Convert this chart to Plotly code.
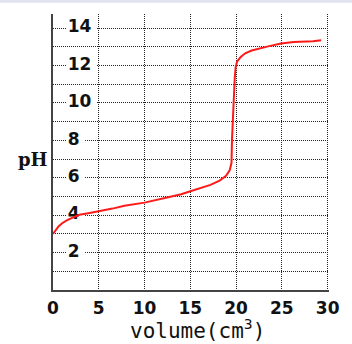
import plotly.graph_objects as go

volume = [0, 0.3, 0.6, 1.0, 1.5, 2.2, 2.9, 4.0, 5.0, 6.5, 7.8, 10.0, 12.7, 14.0, 15.0, 16.2,
          17.2, 18.2, 18.9, 19.3, 19.5, 19.55, 19.65, 19.75, 19.85, 19.95, 20.1, 20.5,
          21.0, 21.7, 22.4, 23.5, 24.9, 26.3, 28.4, 29.3]
ph = [3.0, 3.22, 3.4, 3.57, 3.72, 3.88, 4.02, 4.12, 4.2, 4.35, 4.5, 4.67, 4.97, 5.12, 5.28, 5.45,
      5.62, 5.85, 6.1, 6.4, 6.8, 8.0, 9.2, 10.5, 11.3, 11.9, 12.2, 12.45,
      12.65, 12.8, 12.9, 13.02, 13.17, 13.25, 13.3, 13.35]

x_ticks = [0, 5, 10, 15, 20, 25, 30]
y_label_vals = [2, 4, 6, 8, 10, 12, 14]

grid_color = "#222"
label_x = 1.6

fig = go.Figure()

# y labels drawn inside the plot, below the curve
fig.add_trace(go.Scatter(x=[label_x] * len(y_label_vals), y=y_label_vals, mode="text",
                         text=[str(v) for v in y_label_vals], textposition="middle right",
                         textfont=dict(family="DejaVu Sans", size=17, color="#111", weight="bold"),
                         hoverinfo="skip"))
fig.add_trace(go.Scatter(x=volume, y=ph, mode="lines",
                         line=dict(color="#ff1a1a", width=2), hoverinfo="skip"))

for v in y_label_vals:
    w = len(str(v)) * 12 + 6
    fig.add_shape(type="rect", xref="x", yref="y", x0=label_x - 0.1, x1=label_x + w / 9.45,
                  y0=v - 0.36, y1=v + 0.36, fillcolor="white", line=dict(width=0),
                  layer="between")

fig.update_layout(
    width=352, height=344,
    margin=dict(l=53, r=13, t=14, b=54),
    paper_bgcolor="white", plot_bgcolor="white",
    showlegend=False,
    xaxis=dict(range=[0, 30.15], tickvals=x_ticks, ticktext=[str(v) for v in x_ticks],
               showgrid=True, gridcolor=grid_color, griddash="1px,1px", gridwidth=1,
               zeroline=False, showline=True, linecolor="#444", linewidth=2,
               ticks="", tickfont=dict(family="DejaVu Sans", size=17, color="#111", weight="bold"),
               ticklabelstandoff=2, fixedrange=True),
    yaxis=dict(range=[0, 14.75], dtick=1, tick0=0, showticklabels=False,
               showgrid=True, gridcolor=grid_color, griddash="1px,1px", gridwidth=1,
               zeroline=False, showline=True, linecolor="#444", linewidth=2,
               ticks="", fixedrange=True),
)

fig.add_annotation(x=-0.073, y=7.0, xref="paper", yref="y", text="pH", showarrow=False,
                   xanchor="center", yanchor="middle",
                   font=dict(family="DejaVu Serif", size=18, color="#111", weight="bold"))

fig.add_annotation(x=15.8, y=-0.14, xref="x", yref="paper",
                   text="volume(cm<sup>3</sup>)", showarrow=False,
                   xanchor="center", yanchor="middle",
                   font=dict(family="DejaVu Sans Mono", size=21, color="#111"))

fig.add_shape(type="rect", xref="paper", yref="paper", x0=-0.25, x1=1.1,
              y0=1.041, y1=1.06, fillcolor="#e1e4ee", line=dict(width=0), layer="below")

fig.write_html("out.html")
